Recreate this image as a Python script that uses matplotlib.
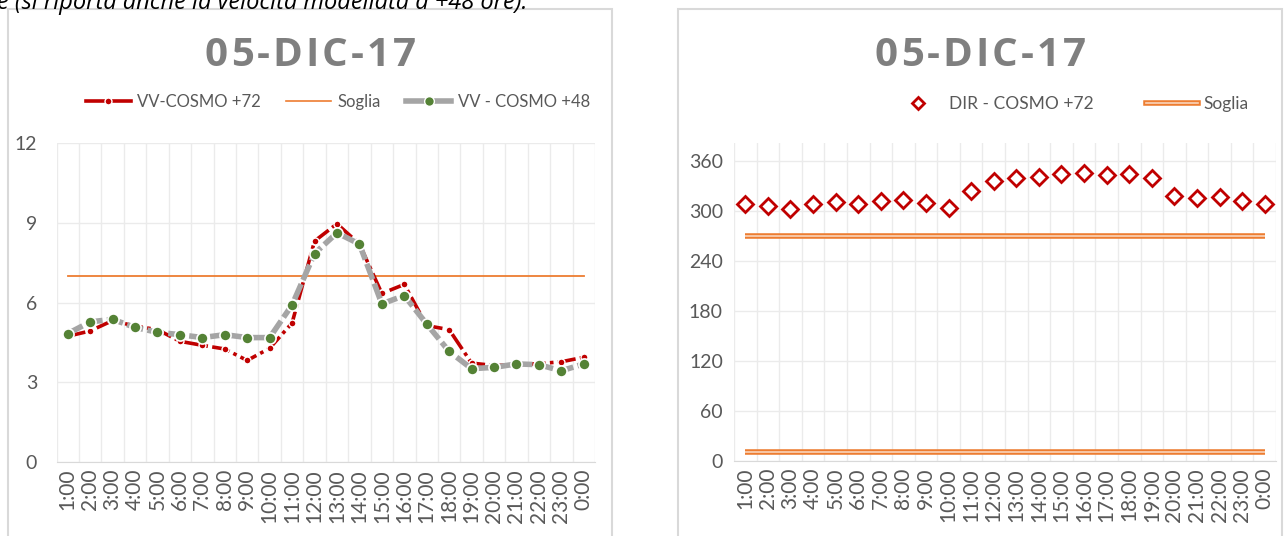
import matplotlib
matplotlib.use("Agg")
import matplotlib.pyplot as plt
from matplotlib.lines import Line2D
from matplotlib.patches import Rectangle

plt.rcParams['font.family'] = ['Lato', 'DejaVu Sans']

# data
hours = ['1:00', '2:00', '3:00', '4:00', '5:00', '6:00', '7:00', '8:00',
         '9:00', '10:00', '11:00', '12:00', '13:00', '14:00', '15:00', '16:00',
         '17:00', '18:00', '19:00', '20:00', '21:00', '22:00', '23:00', '0:00']
vv_72 = [4.73, 4.93, 5.32, 5.11, 4.98, 4.54, 4.39, 4.25, 3.82, 4.28, 5.23, 8.31,
         8.96, 8.2, 6.34, 6.68, 5.13, 4.98, 3.72, 3.63, 3.66, 3.7, 3.77, 3.94]
vv_48 = [4.83, 5.27, 5.37, 5.06, 4.88, 4.79, 4.68, 4.79, 4.68, 4.68, 5.91, 7.84,
         8.62, 8.2, 5.95, 6.26, 5.19, 4.16, 3.51, 3.56, 3.69, 3.66, 3.43, 3.69]
soglia_vv = 7
dir_72 = [308, 306, 302, 308, 311, 309, 312, 313, 310, 304, 324, 336,
          340, 341, 345, 346, 343, 345, 340, 318, 316, 317, 312, 308]
soglia_dir = [270, 11]
title = '05-DIC-17'

W, H = 1284, 536
fig = plt.figure(figsize=(W / 100, H / 100), dpi=100)
txt = '#595959'
grid = '#ebebeb'

def fx(px):
    return px / W

def fy(py):
    return 1 - py / H

# chart boxes
for x0, x1 in [(8, 612), (678, 1282)]:
    fig.patches.append(Rectangle((fx(x0), fy(540)), fx(x1 - x0), (540 - 9) / H,
                                 transform=fig.transFigure, fill=False,
                                 edgecolor='#d9d9d9', lw=1.5))

# caption line of the page, cut at the top like in the original
fig.text(fx(-3), fy(9), 'e (si riporta anche la velocità modellata a +48 ore).',
         fontsize=17, style='italic', color='black', va='baseline', ha='left',
         family=['Open Sans', 'DejaVu Sans'])

x = list(range(len(hours)))

def style_axes(ax, ypad):
    for s in ('top', 'right', 'left'):
        ax.spines[s].set_visible(False)
    ax.spines['bottom'].set_color('#d9d9d9')
    ax.set_xticks([i + 0.5 for i in range(-1, len(hours))], minor=False)
    ax.set_xticks(x, minor=True)
    ax.set_xticklabels([])
    ax.set_xticklabels(hours, minor=True, rotation=90, fontsize=15, color=txt)
    ax.tick_params(axis='x', which='both', length=0, pad=5)
    ax.tick_params(axis='y', length=0, labelsize=14, labelcolor=txt, pad=ypad)
    ax.grid(True, which='major', color=grid, lw=1)
    ax.set_axisbelow(True)
    ax.set_xlim(-0.5, len(hours) - 0.5)

def spaced_title(cx, cy, s, gap):
    # draw the title letter by letter, with extra spacing like the original
    r = fig.canvas.get_renderer()
    kw = dict(fontsize=29, fontweight='bold', color='#7f7f7f',
              family=['Open Sans', 'DejaVu Sans'], va='center', ha='left')
    widths = []
    for ch in s:
        t = fig.text(0, 0, ch, **kw)
        widths.append(t.get_window_extent(r).width)
        t.remove()
    total = sum(widths) + gap * (len(s) - 1)
    px = cx - total / 2
    for ch, w in zip(s, widths):
        fig.text(fx(px), fy(cy), ch, **kw)
        px += w + gap

# left chart: wind speed
ax1 = fig.add_axes([fx(56.5), 74 / H, fx(538.5), 319 / H])
style_axes(ax1, 14)
ax1.set_ylim(0, 12)
ax1.set_yticks([0, 3, 6, 9, 12])
ax1.plot(x, [soglia_vv] * len(x), color='#ed7d31', lw=1.3, zorder=2)
ax1.plot(x, vv_72, color='#c00000', lw=2.6, ls=(0, (5, 1.2, 1, 1.2)),
         marker='o', ms=5, mfc='#c00000', mec='white', mew=1, zorder=3)
ax1.plot(x, vv_48, color='#a5a5a5', lw=4, ls=(0, (3, 0.8)),
         marker='o', ms=8, mfc='#548235', mec='white', mew=1.2, zorder=4)

h1 = [Line2D([], [], color='#c00000', lw=2.6, marker='o', ms=5, mfc='#c00000', mec='white'),
      Line2D([], [], color='#ed7d31', lw=1.2),
      Line2D([], [], color='#a5a5a5', lw=4, marker='o', ms=7, mfc='#548235', mec='white')]
fig.legend(h1, ['VV-COSMO +72', 'Soglia', 'VV - COSMO +48'], loc='center',
           bbox_to_anchor=(fx(338), fy(102)), ncol=3, frameon=False,
           fontsize=12, labelcolor=txt, handlelength=2.7, columnspacing=1.5,
           handletextpad=0.4)
spaced_title(310, 55, title, 3)

# right chart: wind direction
ax2 = fig.add_axes([fx(734), 75 / H, fx(542), 318 / H])
style_axes(ax2, 8)
ax2.set_ylim(0, 381.6)
ax2.set_yticks([0, 60, 120, 180, 240, 300, 360])
for s in soglia_dir:
    ax2.plot(x, [s] * len(x), color='#ed7d31', lw=4, solid_capstyle='butt', zorder=2)
    ax2.plot(x, [s] * len(x), color='#fad4ba', lw=1.2, solid_capstyle='butt', zorder=2)
ax2.plot(x, dir_72, ls='none', marker='D', ms=8.5, mfc='white', mec='#c00000',
         mew=2, zorder=3)

h2 = [Line2D([], [], ls='none', marker='D', ms=6.5, mfc='white', mec='#c00000', mew=2),
      (Line2D([], [], color='#ed7d31', lw=4), Line2D([], [], color='#fad4ba', lw=1.2))]
fig.legend(h2, ['DIR - COSMO +72', 'Soglia'], loc='center',
           bbox_to_anchor=(fx(1070), fy(104)), ncol=2, frameon=False,
           fontsize=12.5, labelcolor=txt, handlelength=3.0, columnspacing=3.0,
           handletextpad=0.3)
spaced_title(980, 55, title, 3)

fig.savefig('out.png', dpi=100)
